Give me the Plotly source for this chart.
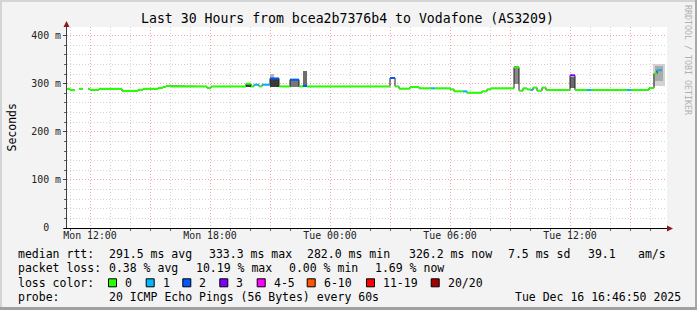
import plotly.graph_objects as go
import pandas as pd

# ---------------- data ----------------
D1 = "2025-12-15 "
D2 = "2025-12-16 "

# median RTT segments (ms), loss = lost pings of 20
seg_start = [D1+"10:51", D1+"11:00", D1+"11:15", D1+"11:27", D1+"11:39", D1+"11:54", D1+"12:00", D1+"12:27",
             D1+"13:36", D1+"14:24", D1+"14:39", D1+"15:24", D1+"15:39", D1+"15:48", D1+"16:03", D1+"17:51",
             D1+"18:03", D1+"19:48", D1+"20:03", D1+"20:12", D1+"20:27", D1+"20:36", D1+"21:00", D1+"21:27",
             D1+"22:00", D1+"22:27", D1+"22:39", D1+"22:51", D2+"03:00", D2+"03:15", D2+"03:27", D2+"04:00",
             D2+"04:27", D2+"05:03", D2+"05:15", D2+"06:00", D2+"06:12", D2+"06:39", D2+"06:51", D2+"07:36",
             D2+"07:51", D2+"08:03", D2+"09:12", D2+"09:27", D2+"09:39", D2+"09:51", D2+"10:03", D2+"10:09",
             D2+"10:21", D2+"10:36", D2+"10:48", D2+"12:00", D2+"12:15", D2+"12:51", D2+"13:03", D2+"14:51",
             D2+"15:03", D2+"15:57", D2+"16:12", D2+"16:21"]
seg_end = seg_start[1:] + [D2+"16:36"]
seg_median = [289.4, 286.6, None, 289.4, None, 289.4, 287.0, 289.4,
              285.0, 287.5, 289.4, 291.4, 293.5, 295.5, 294.3, 290.8,
              294.4, 300.0, 294.4, 298.0, 294.4, 298.0, 311.0, 294.4,
              308.5, 294.4, 296.0, 294.4, 312.0, 294.4, 289.8, 293.0,
              290.4, 290.4, 290.4, 288.3, 284.1, 284.1, 281.4, 284.1,
              288.3, 290.4, 334.0, 285.6, 290.4, 288.3, 287.0, 292.0,
              285.6, 292.0, 287.0, 317.4, 287.0, 287.0, 287.0, 287.0,
              287.0, 291.0, 321.0, 328.0]
seg_loss = [0, 0, 0, 0, 0, 0, 0, 0,
            0, 0, 0, 0, 0, 0, 0, 0,
            0, 0, 0, 1, 0, 1, 2, 0,
            2, 0, 2, 0, 2, 0, 0, 0,
            0, 1, 0, 0, 0, 1, 0, 0,
            0, 0, 0, 0, 0, 0, 1, 0,
            0, 0, 0, 3, 0, 1, 0, 1,
            0, 0, 0, 1]

# smoke (spread of the 20 pings)
smoke_start = [D1+"19:48", D1+"21:00", D1+"21:00", D1+"22:00", D1+"22:39", D2+"09:12", D2+"12:00",
               D2+"15:03", D2+"16:09", D2+"16:15"]
smoke_end = [D1+"20:03", D1+"21:27", D1+"21:12", D1+"22:27", D1+"22:51", D2+"09:27", D2+"12:15",
             D2+"15:12", D2+"16:45", D2+"16:39"]
smoke_lo = [294, 294, 311, 294, 294, 300, 292, 286, 296, 306]
smoke_hi = [300, 311, 321, 308, 327, 336, 315, 290, 341, 337]
smoke_shade = ["#404040", "#3a3a3a", "#b4b4b4", "#767676", "#6e6e6e", "#8a8a8a", "#6a6a6a",
               "#dadada", "#d2d2d2", "#ababab"]

loss_labels = ["0", "1", "2", "3", "4-5", "6-10", "11-19", "20/20"]
loss_colors = ["#26ff00", "#00b8ff", "#0059ff", "#7e00ff", "#ff00ff", "#ff5500", "#ff0000", "#a10000"]
loss_index = {0: 0, 1: 1, 2: 2, 3: 3}

x_ticks = [D1+"12:00", D1+"15:00", D1+"18:00", D1+"21:00", D2+"00:00", D2+"03:00",
           D2+"06:00", D2+"09:00", D2+"12:00", D2+"15:00"]
x_ticktext = ["Mon 12:00", "", "Mon 18:00", "", "Tue 00:00", "", "Tue 06:00", "", "Tue 12:00", ""]
y_ticks = [0, 100, 200, 300, 400]
y_ticktext = ["0\u00a0\u00a0", "100 m", "200 m", "300 m", "400 m"]

stats_rows = [
    ["median rtt:", "291.5 ms avg", "333.3 ms max", "282.0 ms min", "326.2 ms now", "7.5 ms sd", "39.1", "am/s"],
    ["packet loss:", "0.38 % avg", "10.19 % max", "0.00 % min", "1.69 % now"],
]
probe_text = "20 ICMP Echo Pings (56 Bytes) every 60s"
stamp_text = "Tue Dec 16 16:46:50 2025"
title_text = "Last 30 Hours from bcea2b7376b4 to Vodafone (AS3209)"

# ---------------- geometry helpers (pixel -> paper) ----------------
W, H = 697, 310
L, R, T, B = 67, 30, 27, 82
PW, PH = W - L - R, H - T - B
def px(x): return (x - L) / PW
def py(y): return (H - B - y) / PH

MONO = "DejaVu Sans Mono"
fig = go.Figure()

# smoke bars
ss = pd.to_datetime(smoke_start); se = pd.to_datetime(smoke_end)
mids = ss + (se - ss) / 2
widths = [(b - a).total_seconds() * 1000 for a, b in zip(ss, se)]
fig.add_trace(go.Bar(x=mids, y=[h - l for l, h in zip(smoke_lo, smoke_hi)], base=smoke_lo,
                     width=widths, marker=dict(color=smoke_shade, line=dict(width=0)),
                     hoverinfo="skip", showlegend=False))

# dark connector line
cx, cy = [], []
for s, e, v in zip(seg_start, seg_end, seg_median):
    cx += [s, e]; cy += [v, v]
fig.add_trace(go.Scatter(x=cx, y=cy, mode="lines", line=dict(color="#1e1e1e", width=1),
                         connectgaps=False, hoverinfo="skip", showlegend=False))

# colored median segments by loss
for lvl, idx in loss_index.items():
    xs, ys = [], []
    for s, e, v, l in zip(seg_start, seg_end, seg_median, seg_loss):
        if l == lvl and v is not None:
            xs += [s, e, None]; ys += [v, v, None]
    if xs:
        fig.add_trace(go.Scatter(x=xs, y=ys, mode="lines",
                                 line=dict(color=loss_colors[idx], width=2),
                                 hoverinfo="skip", showlegend=False))

shapes = []
def rect(x0, y0, x1, y1, color, line=None):
    shapes.append(dict(type="rect", xref="paper", yref="paper", x0=px(x0), x1=px(x1),
                       y0=py(y0), y1=py(y1), fillcolor=color,
                       line=dict(width=1 if line else 0, color=line or color), layer="above"))
# frame
rect(0, 0, W, 2, "#d4d4d4")
rect(0, 0, 2, H, "#d4d4d4")
rect(W - 2, 0, W, H, "#a8a8a8")
rect(0, H - 3, W, H, "#a0a0a0")
# axes
shapes.append(dict(type="line", xref="paper", yref="paper", x0=px(66.5), x1=px(66.5),
                   y0=py(228), y1=py(24), line=dict(color="#404040", width=1)))
shapes.append(dict(type="line", xref="paper", yref="paper", x0=px(64), x1=px(670),
                   y0=py(228.5), y1=py(228.5), line=dict(color="#000000", width=1)))
shapes.append(dict(type="path", xref="paper", yref="paper",
                   path=f"M {px(63.5)} {py(27)} L {px(69.5)} {py(27)} L {px(66.5)} {py(21)} Z",
                   fillcolor="#8b1a1a", line=dict(width=0)))
shapes.append(dict(type="path", xref="paper", yref="paper",
                   path=f"M {px(667)} {py(225.5)} L {px(667)} {py(231.5)} L {px(673)} {py(228.5)} Z",
                   fillcolor="#8b1a1a", line=dict(width=0)))

annotations = []
def text(x, y, s, size=11.5, color="#000", xanchor="left", angle=0):
    annotations.append(dict(x=px(x), y=py(y), xref="paper", yref="paper", text=s, showarrow=False,
                            xanchor=xanchor, yanchor="middle", textangle=angle,
                            font=dict(family=MONO, size=size, color=color)))

text(347, 18.5, title_text, size=13.2, xanchor="center")
text(688, 60, "RRDTOOL / TOBI OETIKER", size=8.3, color="#b0b0b0", xanchor="center", angle=90)
text(11, 127.5, "Seconds", size=11.5, xanchor="center", angle=-90)

row_y = [254.3, 268.3, 282.8, 297.3]
stats_x = [[16, 107.3, 207.3, 305, 407.3, 505.7, 586, 636],
           [16, 107.3, 194, 286.7, 372.7]]
for r, (items, xs) in enumerate(zip(stats_rows, stats_x)):
    for s, x in zip(items, xs):
        text(x, row_y[r], s.replace(" ", "\u00a0"))
text(16, row_y[2], "loss\u00a0color:")
sq_x = [108, 145.7, 182.3, 219.3, 256.7, 306.7, 366, 430.7]
for lab, col, x in zip(loss_labels, loss_colors, sq_x):
    rect(x + 0.5, row_y[2] - 4, x + 8.5, row_y[2] + 4, col, line="#000000")
    text(x + 15, row_y[2], lab)
text(16, row_y[3], "probe:")
text(107.3, row_y[3], probe_text.replace(" ", "\u00a0"))
text(513.3, row_y[3], stamp_text.replace(" ", "\u00a0"))

fig.update_layout(
    width=W, height=H, margin=dict(l=L, r=R, t=T, b=B, autoexpand=False),
    paper_bgcolor="#f3f3f3", plot_bgcolor="#ffffff",
    barmode="overlay", bargap=0, showlegend=False,
    shapes=shapes, annotations=annotations,
    xaxis=dict(type="date", range=[D1+"10:51", D2+"16:51"], tickvals=x_ticks, ticktext=x_ticktext,
               showgrid=True, gridcolor="#f4a4a4", griddash="1px,2px", gridwidth=1,
               ticks="",
               tickfont=dict(family=MONO, size=9.9, color="#222"),
               minor=dict(dtick=3600000, tick0=D1+"00:00", showgrid=True, gridcolor="#d4d4d4",
                          griddash="1px,2px", ticks="outside", ticklen=2, tickcolor="#606060"),
               zeroline=False, showline=False, fixedrange=True),
    yaxis=dict(range=[0, 418], tickvals=y_ticks, ticktext=y_ticktext,
               showgrid=True, gridcolor="#f4a4a4", griddash="1px,2px", gridwidth=1,
               ticks="outside", ticklen=3, tickcolor="#404040",
               tickfont=dict(family=MONO, size=9.9, color="#222"),
               minor=dict(dtick=20, showgrid=True, gridcolor="#d4d4d4", griddash="1px,2px",
                          ticks="outside", ticklen=2, tickcolor="#606060"),
               zeroline=False, showline=False, fixedrange=True),
)
fig.write_html("out.html")
